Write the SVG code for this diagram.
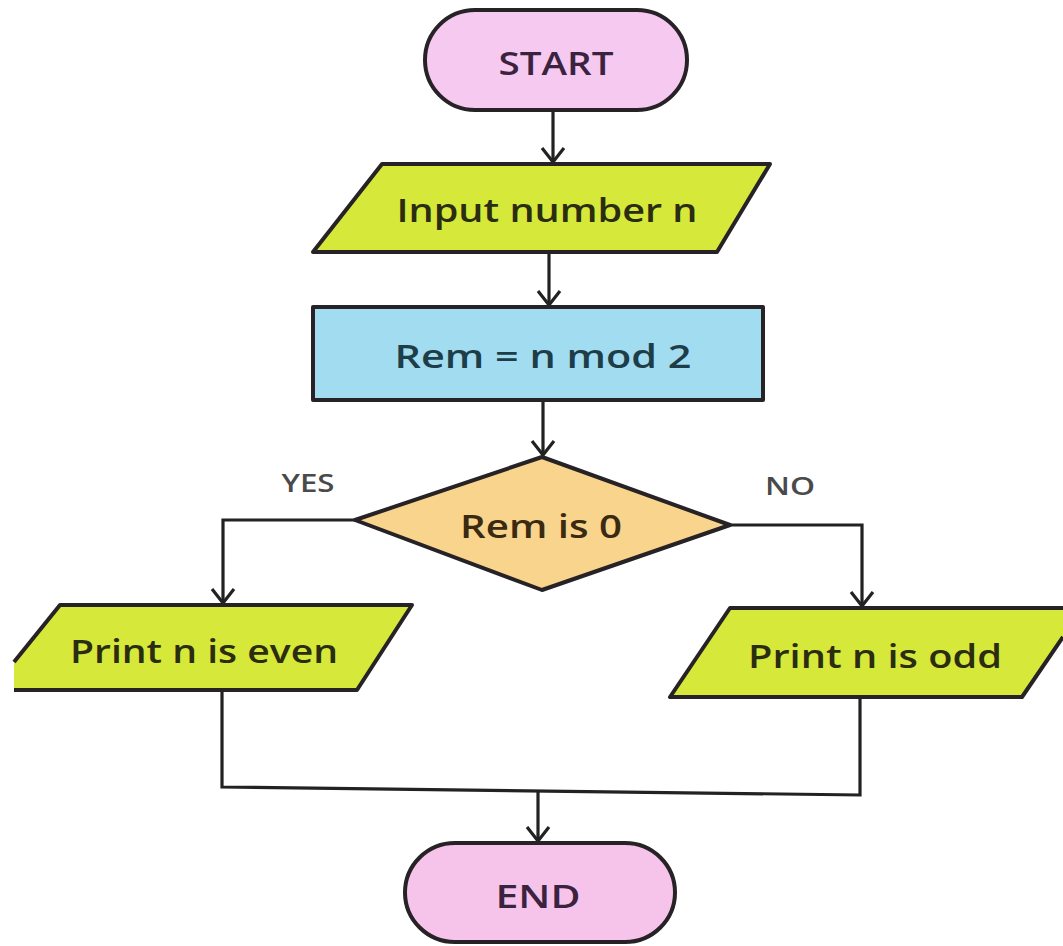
<svg xmlns="http://www.w3.org/2000/svg" width="1063" height="946" viewBox="0 0 1063 946">
<style>
.shape{stroke:#262226;stroke-width:4;stroke-linejoin:round}
.edge{fill:none;stroke:#222;stroke-width:3.2}
.lbl{font-family:"Open Sans","Liberation Sans",sans-serif;font-weight:600;font-size:32px;text-anchor:middle}
.small{font-family:"Open Sans","Liberation Sans",sans-serif;font-weight:600;font-size:25px;fill:#4a4a4a;text-anchor:middle}
</style>
<defs>
<marker id="arr" viewBox="-16 -13 18 26" refX="0" refY="0" markerWidth="18" markerHeight="26" markerUnits="userSpaceOnUse" orient="auto">
<path d="M-14,-11 L0,0 L-14,11" fill="none" stroke="#222" stroke-width="3.2"/>
</marker>
</defs>
<rect width="1063" height="946" fill="#ffffff"/>
<g id="connectors">
<path class="edge" d="M553,110 V162" marker-end="url(#arr)"/>
<path class="edge" d="M549,252 V305" marker-end="url(#arr)"/>
<path class="edge" d="M543,400 V455" marker-end="url(#arr)"/>
<path class="edge" d="M355,520 H223 V603" marker-end="url(#arr)"/>
<path class="edge" d="M730,525 H862 V606" marker-end="url(#arr)"/>
<path class="edge" d="M222,690 V787 L860,795 V697"/>
<path class="edge" d="M538,791 V841" marker-end="url(#arr)"/>
</g>
<g id="start">
<rect class="shape" x="425" y="10" width="262" height="100" rx="50" fill="#f6c9f1"/>
<text class="lbl" x="556" y="75" fill="#3b2340" textLength="115" lengthAdjust="spacingAndGlyphs">START</text>
</g>
<g id="input">
<polygon class="shape" points="382,164 770,164 717,252 313,252" fill="#d6e83a"/>
<text class="lbl" x="547" y="222" fill="#2a2d10" textLength="301" lengthAdjust="spacingAndGlyphs">Input number n</text>
</g>
<g id="process">
<rect class="shape" x="313" y="307" width="450" height="93" fill="#a2dcf0"/>
<text class="lbl" x="543" y="368" fill="#1d3d48" textLength="297" lengthAdjust="spacingAndGlyphs">Rem = n mod 2</text>
</g>
<g id="decision">
<polygon class="shape" points="542,457 730,525 542,590 355,520" fill="#f8d48c"/>
<text class="lbl" x="541" y="538" fill="#3a2a12" font-size="34" textLength="162" lengthAdjust="spacingAndGlyphs">Rem is 0</text>
<text class="small" x="308" y="492" textLength="53" lengthAdjust="spacingAndGlyphs">YES</text>
<text class="small" x="790" y="495" textLength="50" lengthAdjust="spacingAndGlyphs">NO</text>
</g>
<g id="even">
<polygon points="60,605 412,605 357,690 14,690 14,662" fill="#d6e83a"/>
<path class="shape" fill="none" d="M14,662 L60,605 L412,605 L357,690 L14,690"/>
<text class="lbl" x="204" y="663" fill="#2a2d10" textLength="268" lengthAdjust="spacingAndGlyphs">Print n is even</text>
</g>
<g id="odd">
<polygon points="730,608 1063,608 1063,637 1022,697 670,697" fill="#d6e83a"/>
<path class="shape" fill="none" d="M1063,608 L730,608 L670,697 L1022,697 L1063,637"/>
<text class="lbl" x="875" y="668" fill="#2a2d10" textLength="254" lengthAdjust="spacingAndGlyphs">Print n is odd</text>
</g>
<g id="end">
<rect class="shape" x="405" y="843" width="270" height="99" rx="50" fill="#f6c4ea"/>
<text class="lbl" x="538" y="908" fill="#3b2340" font-size="34" textLength="85" lengthAdjust="spacingAndGlyphs">END</text>
</g>
</svg>
